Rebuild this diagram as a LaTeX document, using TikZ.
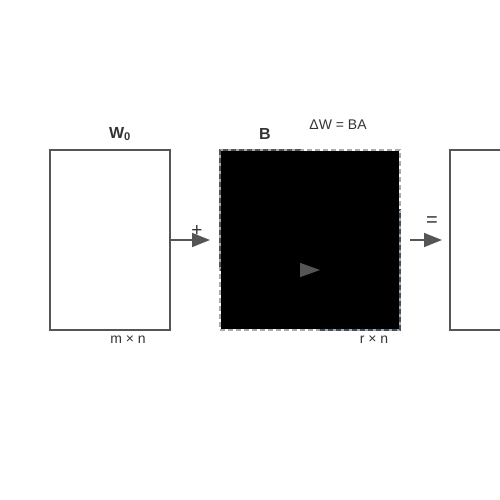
\documentclass[tikz,border=0pt]{standalone}
\usepackage{fontspec}
\setmainfont{Liberation Sans}
\usetikzlibrary{arrows.meta}
\definecolor{linegray}{HTML}{555555}
\definecolor{lightdash}{HTML}{AAAAAA}
\definecolor{bluedash}{HTML}{3E5062}
\definecolor{textgray}{HTML}{333333}

\begin{document}
\begin{tikzpicture}[
   x = 1pt, y = -1pt,
   every node/.style = {text=textgray, font=\fontsize{14}{16}\selectfont},
   matrix/.style = {draw=linegray, line width=1.2pt, inner sep=0pt, outer sep=0pt},
   lowrank/.style = {line width=1.6pt, dash pattern=on 5pt off 3pt,
      inner sep=0pt, outer sep=0pt},
   arr/.style = {draw=linegray, line width=1.5pt,
      -{Triangle[length=18pt, width=14pt]}},
]
   \useasboundingbox (0,0) rectangle (500,500);
   % frozen weight
   \node [matrix, minimum width=120pt, minimum height=180pt] (W) at (110,240) {};
   \node [font=\fontsize{16}{18}\selectfont\bfseries] (Wlab) at (120,134) {W\textsubscript{0}};
   \node (Wdim) at (128,340) {m × n};
   % update = B times A
   \node [lowrank, draw=lightdash, minimum width=180pt, minimum height=180pt] (dW) at (310,240) {};
   \node [lowrank, draw=linegray, minimum width=80pt, minimum height=120pt] (B) at (260,210) {};
   \node [lowrank, draw=bluedash, minimum width=80pt, minimum height=120pt] (A) at (360,270) {};
   \fill [black] ([shift={(0.8pt,-0.8pt)}]dW.north west) rectangle ([shift={(-0.8pt,0.8pt)}]dW.south east);
   \node [font=\fontsize{16}{18}\selectfont\bfseries] (Blab) at (265,134) {B};
   \node (dWlab) at (338,125) {ΔW = BA};
   \node (Adim) at (374,340) {r × n};
   \draw [arr, -{Triangle[length=20pt, width=14pt]}] (B.south east) -- (A.west);
   % result
   \node [matrix, minimum width=120pt, minimum height=180pt] (R) at (510,240) {};
   % operators
   \draw [arr, shorten >=10pt] (W.east) -- (dW.west);
   \node [font=\fontsize{19}{21}\selectfont] (plus) at (197,231) {+};
   \draw [arr, shorten <=10pt, shorten >=8pt] (dW.east) -- (R.west);
   \node [font=\fontsize{20}{22}\selectfont] (eq) at (432,222) {=};
\end{tikzpicture}
\end{document}
